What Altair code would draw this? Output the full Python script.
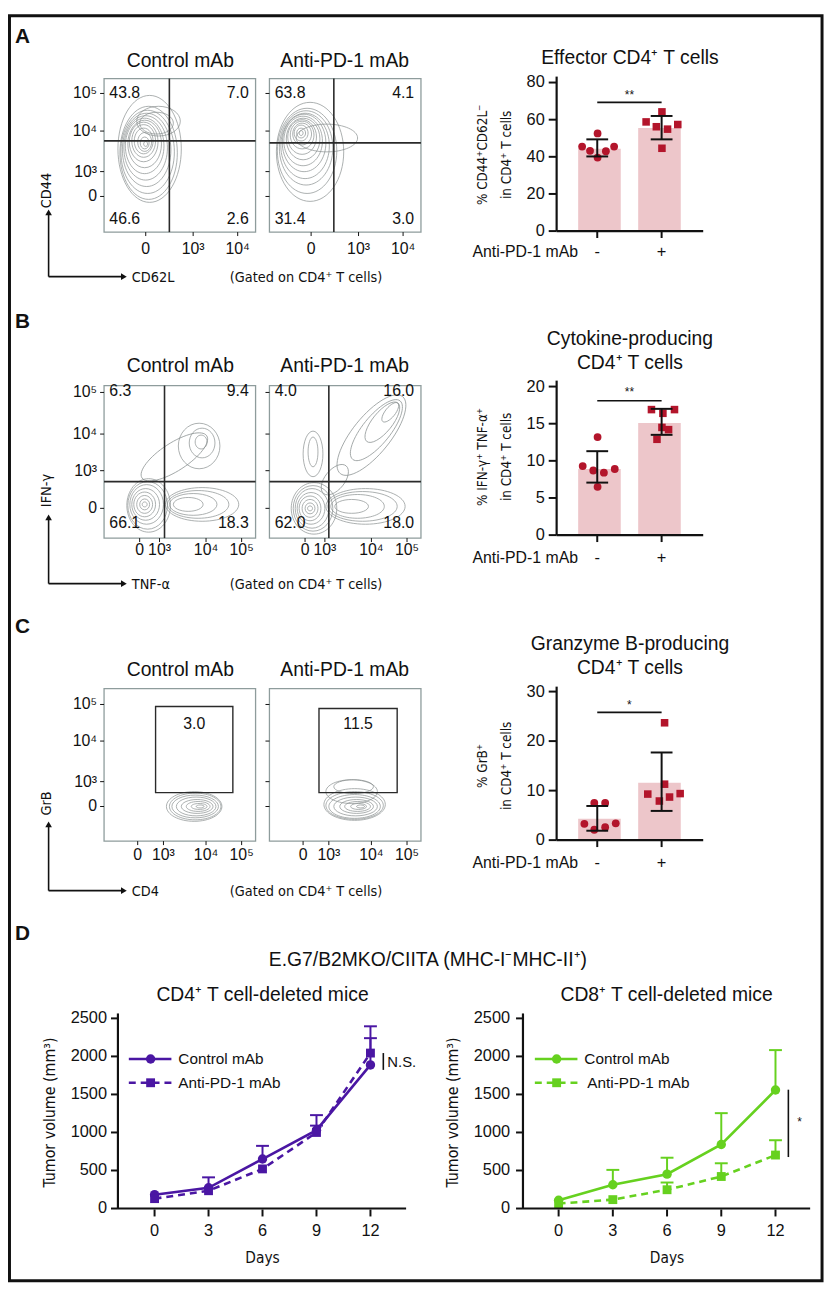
import altair as alt
import pandas as pd

# ======================= DATA =======================
groups = ["Control mAb", "Anti-PD-1 mAb"]
bar_groups = ["-", "+"]

# Flow quadrant percentages (UL, UR, LL, LR)
flowA_ctrl_quads = [43.8, 7.0, 46.6, 2.6]
flowA_anti_quads = [63.8, 4.1, 31.4, 3.0]
flowB_ctrl_quads = [6.3, 9.4, 66.1, 18.3]
flowB_anti_quads = [4.0, 16.0, 62.0, 18.0]
flowC_ctrl_gate_pct = 3.0
flowC_anti_gate_pct = 11.5

# gate thresholds on the display scale (0-100)
flowA_ctrl_gate = [43.1, 59.4]
flowA_anti_gate = [42.5, 58.1]
flowB_ctrl_gate = [39.9, 37.0]
flowB_anti_gate = [39.2, 37.0]
flowC_ctrl_box = [34.0, 85.0, 31.8, 88.3]
flowC_anti_box = [32.7, 84.3, 31.8, 87.0]

# flow axis ticks (display scale 0-100)
flowA_xlabels = ["0", "10³", "10⁴"]
flowA_xpos = [27.5, 58.8, 88.2]
flowA_ylabels = ["10⁵", "10⁴", "10³", "0"]
flowA_ypos = [90.3, 65.8, 39.4, 23.2]
flowB_xlabels = ["0", "10³", "10⁴", "10⁵"]
flowB_xpos = [23.5, 36.6, 67.3, 90.8]
flowB_ylabels = ["10⁵", "10⁴", "10³", "0"]
flowB_ypos = [95.5, 68.2, 44.2, 19.5]
flowC_xlabels = ["0", "10³", "10⁴", "10⁵"]
flowC_xpos = [22.2, 39.2, 67.3, 90.8]
flowC_ylabels = ["10⁵", "10⁴", "10³", "0"]
flowC_ypos = [89.6, 65.6, 39.0, 22.7]

# Bar charts: bar heights, SD limits, individual mice
effA_bar = [44.3, 55.5]
effA_lo = [40.2, 49.4]
effA_hi = [49.4, 62.0]
effA_ctrl = [45.5, 43.2, 52.6, 39.6, 43.0, 45.5]
effA_ctrl_jit = [-0.235, -0.112, 0.005, 0.005, 0.134, 0.262]
effA_anti = [58.8, 56.2, 64.2, 54.9, 57.4, 44.6]
effA_anti_jit = [-0.241, -0.082, 0.005, 0.092, 0.251, 0.005]

cytB_bar = [8.9, 15.1]
cytB_lo = [7.07, 13.5]
cytB_hi = [11.3, 17.0]
cytB_ctrl = [9.3, 8.7, 13.2, 8.4, 8.9, 6.5]
cytB_ctrl_jit = [-0.226, -0.062, 0.005, 0.103, 0.272, 0.005]
cytB_anti = [16.9, 16.9, 16.4, 14.5, 14.2, 12.9]
cytB_anti_jit = [-0.158, 0.2, 0.02, 0.005, 0.108, -0.072]

grbC_bar = [4.3, 11.6]
grbC_lo = [1.9, 5.9]
grbC_hi = [6.9, 17.7]
grbC_ctrl = [3.3, 2.1, 2.6, 3.4, 7.5, 7.5]
grbC_ctrl_jit = [-0.2, -0.046, 0.123, 0.287, -0.046, 0.123]
grbC_anti = [23.7, 11.3, 9.3, 7.9, 8.7, 9.4]
grbC_anti_jit = [0.046, 0.046, -0.215, -0.035, 0.123, 0.288]

# Tumour growth (mm3)
days = [0, 3, 6, 9, 12]
cd4_ctrl = [182, 273, 651, 1030, 1888]
cd4_ctrl_up = [None, 410, 824, 1228, 2240]
cd4_anti = [130, 234, 521, 1000, 2044]
cd4_anti_up = [None, None, None, 1090, 2396]
cd8_ctrl = [108, 312, 452, 842, 1558]
cd8_ctrl_up = [None, 508, 668, 1254, 2083]
cd8_anti = [65, 117, 247, 421, 703]
cd8_anti_up = [None, None, 342, 595, 898]

# ======================= STYLE =======================
SANS = "Liberation Sans, Arial, Helvetica, sans-serif"
COND = "Liberation Sans Narrow, DejaVu Sans Condensed, Liberation Sans, sans-serif"
INK = "#111111"
PINK = "#EDC6CA"
RED = "#B3152B"
PURPLE = "#4A16A3"
GREEN = "#66D11F"
FRAME = "#8E9C9C"
CONT = "#858C8C"

layers = []
ONE = pd.DataFrame({"k": [0]})


def P(v):
    return v - 8


def sx(dom, a, b):
    return alt.Scale(domain=dom, range=[P(a), P(b)], nice=False, zero=False)


def sy(dom, bot, top):
    return alt.Scale(domain=dom, range=[P(bot), P(top)], nice=False, zero=False)


def label(s, x, y, size=16, font=SANS, align="center", baseline="middle",
          weight="normal", angle=None, color=INK):
    kw = dict(align=align, baseline=baseline, font=font, fontSize=size,
              fontWeight=weight, color=color)
    if angle is not None:
        kw["angle"] = angle
    layers.append(alt.Chart(ONE).mark_text(**kw).encode(
        x=alt.value(P(x)), y=alt.value(P(y)), text=alt.value(s)))


def seg(x1, y1, x2, y2, w=1.5, color=INK, dash=None):
    kw = dict(color=color, strokeWidth=w)
    if dash:
        kw["strokeDash"] = dash
    layers.append(alt.Chart(ONE).mark_rule(**kw).encode(
        x=alt.value(P(x1)), y=alt.value(P(y1)),
        x2=alt.value(P(x2)), y2=alt.value(P(y2))))


def marker(x, y, shape, size, color):
    layers.append(alt.Chart(ONE).mark_point(shape=shape, filled=True, size=size,
                                            color=color, opacity=1).encode(
        x=alt.value(P(x)), y=alt.value(P(y))))


def ellipse_path(w, h):
    if w >= h:
        r = h / w
        return f"M -1 0 A 1 {r:.4f} 0 1 0 1 0 A 1 {r:.4f} 0 1 0 -1 0 Z", w * w
    r = w / h
    return f"M -{r:.4f} 0 A {r:.4f} 1 0 1 0 {r:.4f} 0 A {r:.4f} 1 0 1 0 -{r:.4f} 0 Z", h * h


def Xd(v, s):
    return alt.XDatum(v, scale=s, axis=None, type="quantitative")


def Yd(v, s):
    return alt.YDatum(v, scale=s, axis=None, type="quantitative")


# ======================= FLOW PLOTS =======================
def flow_plot(box, xl, xp, yl, yp, xlab_y, show_ylab, contours,
              gate=None, quads=None, quad_y=None, gbox=None, gval=None, gval_y=None):
    x0, x1, y0, y1 = box
    XS = sx([0, 100], x0, x1)
    YS = sy([0, 100], y1, y0)
    rows = []
    for (cx, cy, w, h, ang) in contours:
        path, size = ellipse_path(w, h)
        rows.append(dict(cx=(cx - x0) / (x1 - x0) * 100, cy=(y1 - cy) / (y1 - y0) * 100,
                         shp=path, sz=size, ang=ang))
    cdf = pd.DataFrame(rows)
    layers.append(alt.Chart(cdf).mark_point(filled=False, color=CONT, strokeWidth=0.8,
                                            opacity=0.85).encode(
        x=alt.X("cx:Q", scale=XS, axis=None), y=alt.Y("cy:Q", scale=YS, axis=None),
        shape=alt.Shape("shp:N", scale=None), size=alt.Size("sz:Q", scale=None),
        angle=alt.Angle("ang:Q", scale=None)))
    # frame
    layers.append(alt.Chart(ONE).mark_rect(fillOpacity=0, stroke=FRAME, strokeWidth=1.3).encode(
        x=Xd(0, XS), x2=alt.X2Datum(100), y=Yd(0, YS), y2=alt.Y2Datum(100)))
    # ticks
    ydf = pd.DataFrame({"p": yp, "lab": yl})
    layers.append(alt.Chart(ydf).mark_rule(color=INK, strokeWidth=1).encode(
        y=alt.Y("p:Q", scale=YS, axis=None), x=alt.value(P(x0 - 4)), x2=alt.value(P(x0))))
    if show_ylab:
        layers.append(alt.Chart(ydf).mark_text(align="right", baseline="middle", font=SANS,
                                               fontSize=16, color=INK).encode(
            y=alt.Y("p:Q", scale=YS, axis=None), x=alt.value(P(x0 - 7)), text="lab:N"))
    xdf = pd.DataFrame({"p": xp, "lab": xl})
    layers.append(alt.Chart(xdf).mark_rule(color=INK, strokeWidth=1).encode(
        x=alt.X("p:Q", scale=XS, axis=None), y=alt.value(P(y1)), y2=alt.value(P(y1 + 4))))
    layers.append(alt.Chart(xdf).mark_text(align="center", baseline="middle", font=SANS,
                                           fontSize=16, color=INK).encode(
        x=alt.X("p:Q", scale=XS, axis=None), y=alt.value(P(xlab_y)), text="lab:N"))
    if gate is not None:
        gx, gy = gate
        layers.append(alt.Chart(ONE).mark_rule(color="#2A2A2A", strokeWidth=1.6).encode(
            x=Xd(gx, XS), y=Yd(0, YS), y2=alt.Y2Datum(100)))
        layers.append(alt.Chart(ONE).mark_rule(color="#2A2A2A", strokeWidth=1.6).encode(
            y=Yd(gy, YS), x=Xd(0, XS), x2=alt.X2Datum(100)))
        qt, qb = quad_y
        ldf = pd.DataFrame({"x": [3.5, 3.5], "y": [qt, qb],
                            "t": [f"{quads[0]:.1f}", f"{quads[2]:.1f}"]})
        rdf = pd.DataFrame({"x": [95.5, 95.5], "y": [qt, qb],
                            "t": [f"{quads[1]:.1f}", f"{quads[3]:.1f}"]})
        for df, al in ((ldf, "left"), (rdf, "right")):
            layers.append(alt.Chart(df).mark_text(align=al, baseline="middle", font=SANS,
                                                  fontSize=16, color=INK).encode(
                x=alt.X("x:Q", scale=XS, axis=None), y=alt.Y("y:Q", scale=YS, axis=None),
                text="t:N"))
    if gbox is not None:
        bx0, bx1, by0, by1 = gbox
        layers.append(alt.Chart(ONE).mark_rect(fillOpacity=0, stroke="#2A2A2A",
                                               strokeWidth=1.4).encode(
            x=Xd(bx0, XS), x2=alt.X2Datum(bx1), y=Yd(by0, YS), y2=alt.Y2Datum(by1)))
        layers.append(alt.Chart(ONE).mark_text(align="center", baseline="middle", font=SANS,
                                               fontSize=16, color=INK).encode(
            x=Xd((bx0 + bx1) / 2, XS), y=Yd(gval_y, YS), text=alt.value(f"{gval:.1f}")))


CTRL_BOX_A = (105, 258, 73, 228)
ANTI_BOX_A = (272, 425, 73, 228)
CTRL_BOX_B = (105, 258, 383, 537)
ANTI_BOX_B = (272, 425, 383, 537)
CTRL_BOX_C = (105, 258, 689, 843)
ANTI_BOX_C = (272, 425, 689, 843)

contA_ctrl = [(147, 139, 4, 5, 0), (146, 138, 9, 12, 0), (146, 137, 14, 19, 0), (145, 136, 19, 26, 0),
              (145, 136, 24, 33, 0), (145, 137, 29, 40, 0), (146, 139, 34, 48, 0), (146, 141, 39, 56, 0),
              (147, 143, 44, 65, 0), (148, 145, 49, 74, 0), (149, 147, 54, 84, 0), (150, 148, 58, 94, 0),
              (151, 144, 64, 108, 0), (160, 116, 44, 30, 0), (158, 118, 34, 22, 0)]
contA_anti = [(304, 128, 4, 5, 0), (304, 128, 9, 10, 0), (304, 128, 14, 16, 0), (305, 129, 19, 22, 0),
              (305, 130, 24, 28, 0), (305, 132, 29, 35, 0), (306, 134, 34, 42, 0), (306, 136, 39, 50, 0),
              (307, 138, 44, 58, 0), (308, 141, 49, 66, 0), (309, 143, 54, 75, 0), (310, 146, 60, 86, 0),
              (313, 147, 68, 100, 0), (330, 133, 62, 28, 0)]
contB_ctrl = [(146, 503, 5, 5, 0), (146, 503, 10, 11, 0), (146, 503, 16, 18, 0), (146, 503, 22, 25, 0),
              (147, 503, 28, 32, 0), (148, 503, 34, 40, 0), (149, 504, 40, 48, 0), (150, 504, 44, 54, 0),
              (190, 503, 30, 14, 0), (195, 503, 48, 22, 0), (200, 503, 62, 28, 0), (204, 503, 74, 34, 0),
              (203, 440, 12, 14, 0), (204, 441, 26, 30, 0), (201, 444, 42, 46, 0),
              (176, 455, 78, 28, 327)]
contB_anti = [(313, 507, 5, 5, 0), (313, 507, 10, 11, 0), (313, 507, 16, 18, 0), (313, 507, 22, 25, 0),
              (314, 507, 28, 32, 0), (315, 507, 34, 40, 0), (316, 507, 40, 46, 0), (317, 507, 46, 52, 0),
              (355, 505, 34, 14, 0), (361, 505, 54, 24, 0), (366, 505, 70, 30, 0), (369, 505, 80, 36, 0),
              (394, 410, 24, 10, 309), (386, 420, 50, 20, 309), (380, 428, 76, 28, 309),
              (375, 433, 100, 38, 309), (316, 450, 10, 30, 0), (316, 452, 20, 46, 0),
              (338, 478, 36, 20, 309)]
contC_ctrl = [(202, 808, 8, 3, 0), (201, 808, 16, 6, 0), (200, 808, 24, 10, 0), (199, 808, 32, 14, 0),
              (198, 808, 40, 19, 0), (197, 808, 47, 23, 0), (197, 808, 52, 27, 0), (196, 808, 56, 30, 0)]
contC_anti = [(364, 808, 8, 3, 0), (362, 808, 16, 6, 0), (361, 808, 26, 10, 0), (360, 808, 34, 14, 0),
              (359, 808, 44, 19, 0), (358, 808, 52, 24, 0), (358, 807, 58, 28, 0), (358, 806, 62, 32, 0),
              (355, 793, 52, 24, 0), (357, 788, 40, 14, 0)]

flow_plot(CTRL_BOX_A, flowA_xlabels, flowA_xpos, flowA_ylabels, flowA_ypos, 245, True, contA_ctrl,
          gate=flowA_ctrl_gate, quads=flowA_ctrl_quads, quad_y=(90.3, 8.4))
flow_plot(ANTI_BOX_A, flowA_xlabels, flowA_xpos, flowA_ylabels, flowA_ypos, 245, False, contA_anti,
          gate=flowA_anti_gate, quads=flowA_anti_quads, quad_y=(90.3, 8.4))
flow_plot(CTRL_BOX_B, flowB_xlabels, flowB_xpos, flowB_ylabels, flowB_ypos, 549, True, contB_ctrl,
          gate=flowB_ctrl_gate, quads=flowB_ctrl_quads, quad_y=(96.1, 9.7))
flow_plot(ANTI_BOX_B, flowB_xlabels, flowB_xpos, flowB_ylabels, flowB_ypos, 549, False, contB_anti,
          gate=flowB_anti_gate, quads=flowB_anti_quads, quad_y=(96.1, 9.7))
flow_plot(CTRL_BOX_C, flowC_xlabels, flowC_xpos, flowC_ylabels, flowC_ypos, 857, True, contC_ctrl,
          gbox=flowC_ctrl_box, gval=flowC_ctrl_gate_pct, gval_y=76.6)
flow_plot(ANTI_BOX_C, flowC_xlabels, flowC_xpos, flowC_ylabels, flowC_ypos, 857, False, contC_anti,
          gbox=flowC_anti_box, gval=flowC_anti_gate_pct, gval_y=76.6)

# flow headers, panel letters, axis arrows
for yy in (55, 363, 670):
    label(groups[0], 182, yy, size=19.5)
    label(groups[1], 348, yy, size=19.5)
for letter, yy in (("A", 31), ("B", 319), ("C", 627), ("D", 937)):
    label(letter, 15, yy, size=21, weight="bold", align="left")

for (corner, tip, ylab, ylab_y, xlab) in ((273, 205, "CD44", 186, "CD62L"),
                                          (583, 513, "IFN-γ", 489, "TNF-α"),
                                          (893, 823, "GrB", 805, "CD4")):
    seg(49, corner, 49, tip + 4, w=1.6)
    seg(49, corner, 124, corner, w=1.6)
    marker(49, tip + 3, "triangle-up", 45, INK)
    marker(125, corner, "triangle-right", 45, INK)
    label(ylab, 47, ylab_y, size=14.5, font=COND, angle=270)
    label(xlab, 133, corner + 1, size=14.5, font=COND, align="left")
    label("(Gated on CD4⁺ T cells)", 232, corner + 1, size=14.5, font=COND, align="left")


# ======================= BAR CHARTS =======================
def bar_panel(ybot, ytop, ymax, yt, bars, lo, hi, ctrl, cj, anti, aj,
              axis_top, sig_y, star, star_y, xlab_y, titles, title_ys, ytitles, ytitle_y):
    XS = sx([-0.631, 1.646], 562, 710)
    YS = sy([0, ymax], ybot, ytop)
    bdf = pd.DataFrame({"g": [0, 1], "v": bars, "lo": lo, "hi": hi, "lab": bar_groups})
    layers.append(alt.Chart(bdf).mark_bar(size=43, color=PINK, orient="vertical").encode(
        x=alt.X("g:Q", scale=XS, axis=None), y=alt.Y("v:Q", scale=YS, axis=None),
        y2=alt.Y2Datum(0)))
    cdf = pd.DataFrame({"x": cj, "v": ctrl})
    adf = pd.DataFrame({"x": [1 + j for j in aj], "v": anti})
    layers.append(alt.Chart(cdf).mark_point(shape="circle", filled=True, size=62, color=RED,
                                            opacity=1).encode(
        x=alt.X("x:Q", scale=XS, axis=None), y=alt.Y("v:Q", scale=YS, axis=None)))
    layers.append(alt.Chart(adf).mark_point(shape="square", filled=True, size=58, color=RED,
                                            opacity=1).encode(
        x=alt.X("x:Q", scale=XS, axis=None), y=alt.Y("v:Q", scale=YS, axis=None)))
    layers.append(alt.Chart(bdf).mark_rule(color=INK, strokeWidth=2).encode(
        x=alt.X("g:Q", scale=XS, axis=None), y=alt.Y("lo:Q", scale=YS, axis=None),
        y2="hi:Q"))
    for fld in ("lo", "hi"):
        layers.append(alt.Chart(bdf).mark_tick(orient="horizontal", size=22, thickness=2,
                                               color=INK, opacity=1).encode(
            x=alt.X("g:Q", scale=XS, axis=None), y=alt.Y(f"{fld}:Q", scale=YS, axis=None)))
    # axes
    layers.append(alt.Chart(ONE).mark_rule(color=INK, strokeWidth=2.2).encode(
        x=Xd(-0.631, XS), y=Yd(0, YS), y2=alt.Y2Datum(axis_top)))
    layers.append(alt.Chart(ONE).mark_rule(color=INK, strokeWidth=2.2).encode(
        y=Yd(0, YS), x=Xd(-0.631, XS), x2=alt.X2Datum(1.646)))
    tdf = pd.DataFrame({"t": yt, "lab": [str(v) for v in yt]})
    layers.append(alt.Chart(tdf).mark_rule(color=INK, strokeWidth=2).encode(
        y=alt.Y("t:Q", scale=YS, axis=None), x=alt.value(P(554)), x2=alt.value(P(562))))
    layers.append(alt.Chart(tdf).mark_text(align="right", baseline="middle", font=SANS,
                                           fontSize=16.5, color=INK).encode(
        y=alt.Y("t:Q", scale=YS, axis=None), x=alt.value(P(550)), text="lab:N"))
    layers.append(alt.Chart(bdf).mark_rule(color=INK, strokeWidth=2).encode(
        x=alt.X("g:Q", scale=XS, axis=None), y=alt.value(P(ybot)), y2=alt.value(P(ybot + 7))))
    layers.append(alt.Chart(bdf).mark_text(align="center", baseline="middle", font=SANS,
                                           fontSize=16.5, color=INK).encode(
        x=alt.X("g:Q", scale=XS, axis=None), y=alt.value(P(xlab_y)), text="lab:N"))
    # significance
    layers.append(alt.Chart(ONE).mark_rule(color=INK, strokeWidth=1.6).encode(
        x=Xd(0, XS), x2=alt.X2Datum(1), y=Yd(sig_y, YS)))
    layers.append(alt.Chart(ONE).mark_text(align="center", baseline="middle", font=SANS,
                                           fontSize=12, color=INK).encode(
        x=Xd(0.5, XS), y=Yd(star_y, YS), text=alt.value(star)))
    label("Anti-PD-1 mAb", 477, xlab_y, size=16, align="left")
    for t, ty in zip(titles, title_ys):
        label(t, 636, ty, size=19.5)
    label(ytitles[0], 488, ytitle_y, size=13.5, font=COND, angle=270)
    label(ytitles[1], 512, ytitle_y, size=13.5, font=COND, angle=270)


bar_panel(227, 77, 80, [0, 20, 40, 60, 80], effA_bar, effA_lo, effA_hi, effA_ctrl, effA_ctrl_jit,
          effA_anti, effA_anti_jit, 83.2, 69.3, "**", 73.4, 248,
          ["Effector CD4⁺ T cells"], [52], ["% CD44⁺CD62L⁻", "in CD4⁺ T cells"], 150)
bar_panel(534, 384, 20, [0, 5, 10, 15, 20], cytB_bar, cytB_lo, cytB_hi, cytB_ctrl, cytB_ctrl_jit,
          cytB_anti, cytB_anti_jit, 20.8, 18.1, "**", 19.3, 557,
          ["Cytokine-producing", "CD4⁺ T cells"], [336, 360],
          ["% IFN-γ⁺ TNF-α⁺", "in CD4⁺ T cells"], 455)
bar_panel(842, 692, 30, [0, 10, 20, 30], grbC_bar, grbC_lo, grbC_hi, grbC_ctrl, grbC_ctrl_jit,
          grbC_anti, grbC_anti_jit, 31.0, 25.8, "*", 27.3, 865,
          ["Granzyme B-producing", "CD4⁺ T cells"], [644, 668],
          ["% GrB⁺", "in CD4⁺ T cells"], 767)


# ======================= TUMOUR GROWTH =======================
def growth_panel(x0px, x12px, axis_x, axis_r, color, ctrl, ctrl_up, anti, anti_up,
                 ylab_x, ytitle_x, title, title_x):
    XS = sx([0, 12], x0px, x12px)
    YS = sy([0, 2500], 1214, 1022)
    cdf = pd.DataFrame({"d": days, "v": ctrl})
    adf = pd.DataFrame({"d": days, "v": anti})
    erows = []
    for d, v, u in zip(days, ctrl, ctrl_up):
        if u is not None:
            erows.append({"d": d, "v": v, "u": u})
    for d, v, u in zip(days, anti, anti_up):
        if u is not None:
            erows.append({"d": d, "v": v, "u": u})
    edf = pd.DataFrame(erows)
    layers.append(alt.Chart(edf).mark_rule(color=color, strokeWidth=2).encode(
        x=alt.X("d:Q", scale=XS, axis=None), y=alt.Y("v:Q", scale=YS, axis=None), y2="u:Q"))
    layers.append(alt.Chart(edf).mark_tick(orient="horizontal", size=13, thickness=2,
                                           color=color, opacity=1).encode(
        x=alt.X("d:Q", scale=XS, axis=None), y=alt.Y("u:Q", scale=YS, axis=None)))
    layers.append(alt.Chart(cdf).mark_line(color=color, strokeWidth=2.6).encode(
        x=alt.X("d:Q", scale=XS, axis=None), y=alt.Y("v:Q", scale=YS, axis=None)))
    layers.append(alt.Chart(adf).mark_line(color=color, strokeWidth=2.6, strokeDash=[7, 5]).encode(
        x=alt.X("d:Q", scale=XS, axis=None), y=alt.Y("v:Q", scale=YS, axis=None)))
    layers.append(alt.Chart(cdf).mark_point(shape="circle", filled=True, size=90, color=color,
                                            opacity=1).encode(
        x=alt.X("d:Q", scale=XS, axis=None), y=alt.Y("v:Q", scale=YS, axis=None)))
    layers.append(alt.Chart(adf).mark_point(shape="square", filled=True, size=80, color=color,
                                            opacity=1).encode(
        x=alt.X("d:Q", scale=XS, axis=None), y=alt.Y("v:Q", scale=YS, axis=None)))
    # axes
    layers.append(alt.Chart(ONE).mark_rule(color=INK, strokeWidth=2.2).encode(
        x=alt.value(P(axis_x)), y=Yd(0, YS), y2=alt.Y2Datum(2565)))
    layers.append(alt.Chart(ONE).mark_rule(color=INK, strokeWidth=2.2).encode(
        y=Yd(0, YS), x=alt.value(P(axis_x)), x2=alt.value(P(axis_r))))
    yt = [0, 500, 1000, 1500, 2000, 2500]
    tdf = pd.DataFrame({"t": yt, "lab": [str(v) for v in yt]})
    layers.append(alt.Chart(tdf).mark_rule(color=INK, strokeWidth=2).encode(
        y=alt.Y("t:Q", scale=YS, axis=None), x=alt.value(P(axis_x - 7)), x2=alt.value(P(axis_x))))
    layers.append(alt.Chart(tdf).mark_text(align="right", baseline="middle", font=SANS,
                                           fontSize=16.5, color=INK).encode(
        y=alt.Y("t:Q", scale=YS, axis=None), x=alt.value(P(ylab_x)), text="lab:N"))
    xdf = pd.DataFrame({"d": days, "lab": [str(d) for d in days]})
    layers.append(alt.Chart(xdf).mark_rule(color=INK, strokeWidth=2).encode(
        x=alt.X("d:Q", scale=XS, axis=None), y=alt.value(P(1215)), y2=alt.value(P(1222))))
    layers.append(alt.Chart(xdf).mark_text(align="center", baseline="middle", font=SANS,
                                           fontSize=16.5, color=INK).encode(
        x=alt.X("d:Q", scale=XS, axis=None), y=alt.value(P(1237)), text="lab:N"))
    label("Days", (x0px + x12px) / 2, 1264, size=15.5, font=COND)
    label("Tumor volume (mm³)", ytitle_x, 1117, size=16, font=COND, angle=270)
    label(title, title_x, 998, size=19.5)


growth_panel(156, 374, 119, 410, PURPLE, cd4_ctrl, cd4_ctrl_up, cd4_anti, cd4_anti_up,
             108, 50, "CD4⁺ T cell-deleted mice", 265)
growth_panel(564, 783, 528, 818, GREEN, cd8_ctrl, cd8_ctrl_up, cd8_anti, cd8_anti_up,
             515, 457, "CD8⁺ T cell-deleted mice", 673)

label("E.G7/B2MKO/CIITA (MHC-I⁻MHC-II⁺)", 432, 963, size=19.5)

# legends
for (lx0, lx1, mx, tx1, tx2, col) in ((130, 173, 152, 180, 180, PURPLE),
                                       (540, 583, 562, 590, 593, GREEN)):
    seg(lx0, 1063, lx1, 1063, w=2.6, color=col)
    marker(mx, 1063, "circle", 90, col)
    seg(lx0, 1087, lx1, 1087, w=2.6, color=col, dash=[7, 5])
    marker(mx, 1087, "square", 80, col)
    label(groups[0], tx1, 1063, size=15.5, align="left")
    label(groups[1], tx2, 1087, size=15.5, align="left")

# significance marks in D
seg(387, 1057, 387, 1074, w=1.6)
label("N.S.", 391, 1066, size=15, align="left")
seg(796, 1094, 796, 1162, w=1.6)
label("*", 805, 1127, size=12, align="left")

# outer frame
layers.append(alt.Chart(ONE).mark_rect(fillOpacity=0, stroke=INK, strokeWidth=3).encode(
    x=alt.value(1.5), x2=alt.value(P(830)), y=alt.value(1.5), y2=alt.value(P(1287))))

chart = alt.layer(*layers).resolve_scale(x="independent", y="independent").properties(
    width=826, height=1282, autosize=alt.AutoSizeParams(type="none"),
    padding={"left": 0, "top": 0, "right": 0, "bottom": 0},
    background="white",
).configure_view(stroke=None)

chart.save("out.html", embed_options={"renderer": "svg", "actions": False})
